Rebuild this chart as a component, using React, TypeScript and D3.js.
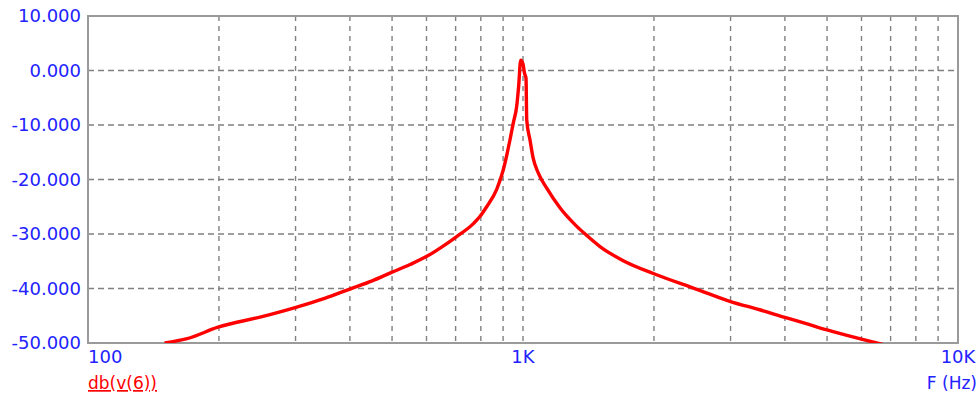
import { useMemo } from 'react'
import * as d3 from 'd3'

// frequency (Hz) and magnitude (dB)
const freqs = [150, 169, 199, 250, 302, 350, 400, 450, 500, 550, 601, 650, 700, 769, 796, 825, 870, 901, 933, 950, 967, 977, 988, 1000, 1008, 1016, 1020, 1038, 1054, 1084, 1134, 1216, 1329, 1403, 1503, 1700, 2000, 2500, 3000, 3500, 4000, 4500, 5000, 5500, 6000, 6500, 7000]
const dbs = [-50, -49.2, -47.1, -45.2, -43.4, -41.8, -40.1, -38.6, -37, -35.6, -34.1, -32.4, -30.6, -28.1, -26.8, -25, -21.8, -18.2, -12.8, -9.6, -6.6, -3, 1.9, 1.2, -0.5, -1.4, -9.1, -12.8, -15.9, -18.8, -21.6, -25.2, -28.6, -30.3, -32.3, -34.9, -37.3, -40.1, -42.4, -43.9, -45.3, -46.5, -47.6, -48.5, -49.3, -50, -50.6]

const yTicks = [10, 0, -10, -20, -30, -40, -50]
const xGrid = [200, 300, 400, 500, 600, 700, 800, 900, 1000, 2000, 3000, 4000, 5000, 6000, 7000, 8000, 9000]
const xLabels = [
  { f: 100, text: '100', anchor: 'start' },
  { f: 1000, text: '1K', anchor: 'middle' },
  { f: 10000, text: '10K', anchor: 'middle' }
]

const App = () => {
  const width = 980
  const height = 396
  const left = 88
  const top = 16
  const right = 958
  const bottom = 343

  const x = d3.scaleLog().domain([100, 10000]).range([left, right])
  const y = d3.scaleLinear().domain([-50, 10]).range([bottom, top])

  const path = useMemo(() => {
    const pts = freqs.map((f, i) => [f, dbs[i]])
    return d3
      .line()
      .curve(d3.curveMonotoneX)
      .x((d) => x(d[0]))
      .y((d) => y(d[1]))(pts)
  }, [])

  const font = 'DejaVu Sans, Verdana, sans-serif'
  const blue = '#2222ff'

  return (
    <div style={{ position: 'absolute', left: 0, top: 0 }}>
      <svg width={width} height={height} style={{ display: 'block', background: '#fff' }}>
        <defs>
          <clipPath id='plot'>
            <rect x={left} y={top} width={right - left} height={bottom - top} />
          </clipPath>
        </defs>
        {yTicks.slice(1, -1).map((t) => (
          <line
            key={'h' + t}
            x1={left}
            x2={right}
            y1={y(t)}
            y2={y(t)}
            stroke='#808080'
            strokeWidth={1.4}
            strokeDasharray='6,4'
          />
        ))}
        {xGrid.map((f) => (
          <line
            key={'v' + f}
            x1={x(f)}
            x2={x(f)}
            y1={top}
            y2={bottom}
            stroke='#808080'
            strokeWidth={1.4}
            strokeDasharray='5,5'
          />
        ))}
        <rect
          x={left}
          y={top}
          width={right - left}
          height={bottom - top}
          fill='none'
          stroke='#9a9a9a'
          strokeWidth={2}
        />
        <path d={path || ''} fill='none' stroke='#ff0000' strokeWidth={3.4} clipPath='url(#plot)' />
        {yTicks.map((t) => (
          <text
            key={'yl' + t}
            x={81}
            y={y(t) + 6}
            textAnchor='end'
            fill={blue}
            fontFamily={font}
            fontSize={18}
          >
            {d3.format('.3f')(t).replace('−', '-')}
          </text>
        ))}
        {xLabels.map((l) => (
          <text
            key={'xl' + l.text}
            x={x(l.f)}
            y={363}
            textAnchor={l.anchor}
            fill={blue}
            fontFamily={font}
            fontSize={18}
          >
            {l.text}
          </text>
        ))}
        <text x={88} y={389} fill='#ff0000' fontFamily={font} fontSize={17} textDecoration='underline'>
          db(v(6))
        </text>
        <text x={977} y={389} textAnchor='end' fill={blue} fontFamily={font} fontSize={17}>
          F (Hz)
        </text>
      </svg>
    </div>
  )
}

export default App
